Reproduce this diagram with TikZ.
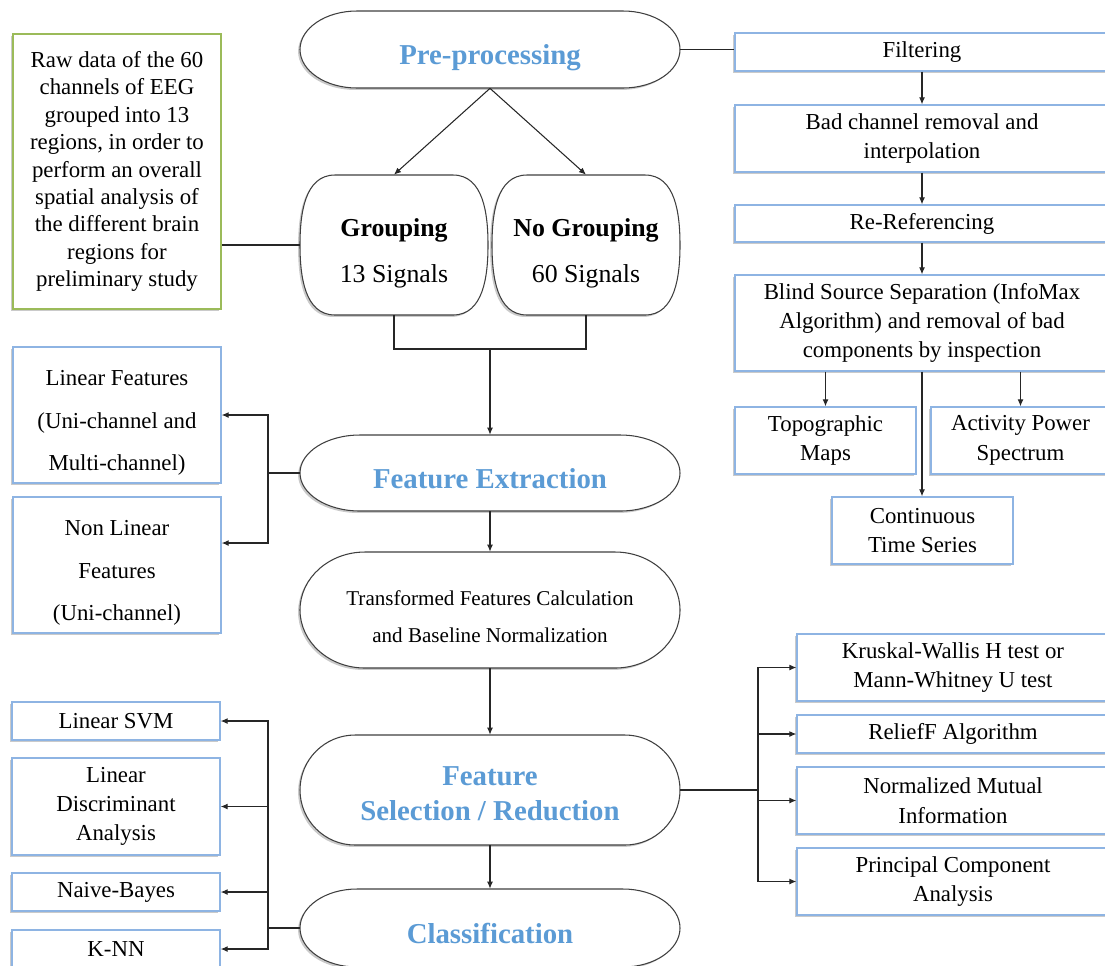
\documentclass[tikz,border=0pt]{standalone}
\usepackage{fontspec}
\setmainfont{Liberation Serif}
\usetikzlibrary{arrows.meta, positioning, calc, shadows}
\definecolor{mtitle}{HTML}{5B9BD5}
\definecolor{mboxline}{HTML}{8EB4E3}
\definecolor{mgreenline}{HTML}{9BBB59}
\definecolor{mdark}{HTML}{3F3F3F}
\definecolor{mconn}{HTML}{262626}
\newcommand{\bodyfont}{\fontsize{13}{16.7}\selectfont}
\newcommand{\widefont}{\fontsize{13}{24.4}\selectfont}
\newcommand{\titlefont}{\bfseries\fontsize{16.4}{19.9}\selectfont}
% strut in the first line, sets the text a little lower
\newcommand{\dropby}[1]{\rule{0pt}{#1}}
\tikzset{
  shadowed/.style={drop shadow={shadow xshift=-1.1pt, shadow yshift=-1.1pt,
                   opacity=0.35, fill=black!60}},
  bbox/.style={draw=mboxline, fill=white, line width=0.8pt, shadowed,
               align=center, inner sep=2pt, font=\bodyfont},
  gbox/.style={bbox, draw=mgreenline},
  stadline/.style={draw=mdark, fill=white, line width=0.6pt, shadowed},
  stadtext/.style={align=center, inner sep=0pt, minimum width=7.6cm,
                   font=\titlefont, text=mtitle},
  grptext/.style={align=center, inner sep=0pt, minimum width=3.76cm,
                  minimum height=2.8cm, font=\fontsize{14.7}{26}\selectfont},
  arr/.style={-{Latex[length=4pt,width=3.4pt]}, mconn, line width=0.6pt},
  conn/.style={mconn, line width=0.6pt},
}
% #1 centre, #2 half width, #3 half height, #4 end radius
\newcommand{\stadium}[4]{%
  \draw[stadline] #1 ++({-#2+#4},#3) -- ++({2*(#2-#4)},0)
    arc[start angle=90, end angle=-90, x radius=#4, y radius=#3]
    -- ++({-2*(#2-#4)},0)
    arc[start angle=270, end angle=90, x radius=#4, y radius=#3] -- cycle;}
\newcommand{\barrel}[4]{%
  \draw[stadline] #1 ++({-#2+#4},#3) -- ++({2*(#2-#4)},0)
    to[out=0,in=90] ++(#4,-#3) to[out=-90,in=0] ++(-#4,-#3)
    -- ++({-2*(#2-#4)},0)
    to[out=180,in=-90] ++(-#4,#3) to[out=90,in=180] ++(#4,#3) -- cycle;}

\begin{document}
\begin{tikzpicture}[x=0.02cm, y=0.02cm]
  \useasboundingbox (0,0) rectangle (1105,-965);

  %% ── centre column ──
  \stadium{(490,-49.5)}{190}{38.5}{57}
  \node[stadtext, minimum height=1.54cm] (pre) at (490,-49.5) {\dropby{0.72cm}Pre-processing};
  \barrel{(394,-245)}{94}{70}{35}
  \barrel{(586,-245)}{94}{70}{35}
  \node[grptext] (grp) at (394,-245) {\dropby{0.68cm}\textbf{Grouping}\\13 Signals};
  \node[grptext] (nogrp) at (586,-245) {\dropby{0.68cm}\textbf{No Grouping}\\60 Signals};
  \stadium{(490,-473)}{190}{38}{60}
  \node[stadtext, minimum height=1.52cm] (fext) at (490,-473) {\dropby{0.64cm}Feature Extraction};
  \stadium{(490,-610)}{190}{58}{65}
  \node[stadtext, minimum height=2.32cm, text=black, font=\fontsize{12}{21}\selectfont]
    (trans) at (490,-610) {\dropby{0.57cm}Transformed Features Calculation\\and Baseline Normalization};
  \stadium{(490,-790)}{190}{55}{55}
  \node[stadtext, minimum height=2.2cm] (fsel) at (490,-790) {\dropby{0.52cm}Feature\\Selection / Reduction};
  \stadium{(490,-928)}{190}{39}{57}
  \node[stadtext, minimum height=1.56cm] (cls) at (490,-928) {\dropby{0.64cm}Classification};

  \draw[arr] (pre.south) -- (grp.north);
  \draw[arr] (pre.south) -- (nogrp.north);
  \coordinate (join) at (490,-349);
  \draw[conn] (grp.south) |- (join) -| (nogrp.south);
  \draw[arr] (join) -- (fext.north);
  \draw[arr] (fext.south) -- (trans.north);
  \draw[arr] (trans.south) -- (fsel.north);
  \draw[arr] (fsel.south) -- (cls.north);

  %% ── raw data ──
  \node[gbox, minimum width=4.16cm, minimum height=5.5cm, font=\fontsize{13}{15.6}\selectfont]
    (raw) at (117,-171.5)
    {Raw data of the 60\\channels of EEG\\grouped into 13\\regions, in order to\\perform an overall\\spatial analysis of\\the different brain\\regions for\\preliminary study};
  \draw[conn] (grp.west) -- (grp.west -| raw.east);

  %% ── pre-processing steps ──
  \node[bbox, minimum width=7.48cm, minimum height=0.76cm] (filt) at (922,-52) {Filtering};
  \node[bbox, minimum width=7.48cm, minimum height=1.34cm] (badch) at (922,-138.5)
    {Bad channel removal and\\interpolation};
  \node[bbox, minimum width=7.48cm, minimum height=0.74cm] (reref) at (922,-223.5) {Re-Referencing};
  \node[bbox, minimum width=7.48cm, minimum height=1.92cm] (bss) at (922,-323)
    {Blind Source Separation (InfoMax\\Algorithm) and removal of bad\\components by inspection};
  \node[bbox, minimum width=3.62cm, minimum height=1.34cm] (topo) at (825.5,-440.5) {Topographic\\Maps};
  \node[bbox, minimum width=3.58cm, minimum height=1.34cm] (aps) at (1020.5,-440.5) {Activity Power\\Spectrum};
  \node[bbox, minimum width=3.62cm, minimum height=1.34cm] (cts) at (922.5,-530.5) {Continuous\\Time Series};

  \draw[conn] (pre.east) -- (pre.east -| filt.west);
  \draw[arr] (filt.south) -- (badch.north);
  \draw[arr] (badch.south) -- (reref.north);
  \draw[arr] (reref.south) -- (bss.north);
  \draw[arr] (bss.south -| topo.north) -- (topo.north);
  \draw[arr] (bss.south -| aps.north) -- (aps.north);
  \draw[arr] (bss.south) -- (bss.south |- cts.north);

  %% ── features ──
  \node[bbox, minimum width=4.16cm, minimum height=2.72cm, font=\widefont]
    (linf) at (117,-415) {\dropby{0.62cm}Linear Features\\(Uni-channel and\\Multi-channel)};
  \node[bbox, minimum width=4.16cm, minimum height=2.72cm, font=\widefont]
    (nlinf) at (117,-565) {\dropby{0.62cm}Non Linear\\Features\\(Uni-channel)};
  \coordinate (fx) at (268,-473);
  \draw[conn] (fext.west) -- (fx);
  \draw[arr] (fx) |- (linf.east);
  \draw[arr] (fx) |- ([yshift=0.44cm]nlinf.east);

  %% ── selection methods ──
  \node[bbox, minimum width=6.24cm, minimum height=1.34cm] (kw) at (953,-667.5)
    {Kruskal-Wallis H test or\\Mann-Whitney U test};
  \node[bbox, minimum width=6.24cm, minimum height=0.76cm] (rf) at (953,-734) {ReliefF Algorithm};
  \node[bbox, minimum width=6.24cm, minimum height=1.34cm] (nmi) at (953,-800.5)
    {Normalized Mutual\\Information};
  \node[bbox, minimum width=6.24cm, minimum height=1.34cm] (pca) at (953,-881.5)
    {Principal Component\\Analysis};
  \coordinate (sx) at (758,-790);
  \draw[conn] (fsel.east) -- (sx);
  \foreach \m in {kw, rf, nmi, pca}
    \draw[arr] (sx) |- (\m.west);

  %% ── classifiers ──
  \node[bbox, minimum width=4.16cm, minimum height=0.76cm] (svm) at (116,-721) {Linear SVM};
  \node[bbox, minimum width=4.16cm, minimum height=1.94cm] (lda) at (116,-806.5)
    {Linear\\Discriminant\\Analysis};
  \node[bbox, minimum width=4.16cm, minimum height=0.76cm] (nb) at (116,-892) {Naive-Bayes};
  \node[bbox, minimum width=4.16cm, minimum height=0.76cm] (knn) at (116,-949) {K-NN};
  \coordinate (cx) at (268,-928);
  \draw[conn] (cls.west) -- (cx);
  \foreach \m in {svm, lda, nb, knn}
    \draw[arr] (cx) |- (\m.east);
\end{tikzpicture}
\end{document}
